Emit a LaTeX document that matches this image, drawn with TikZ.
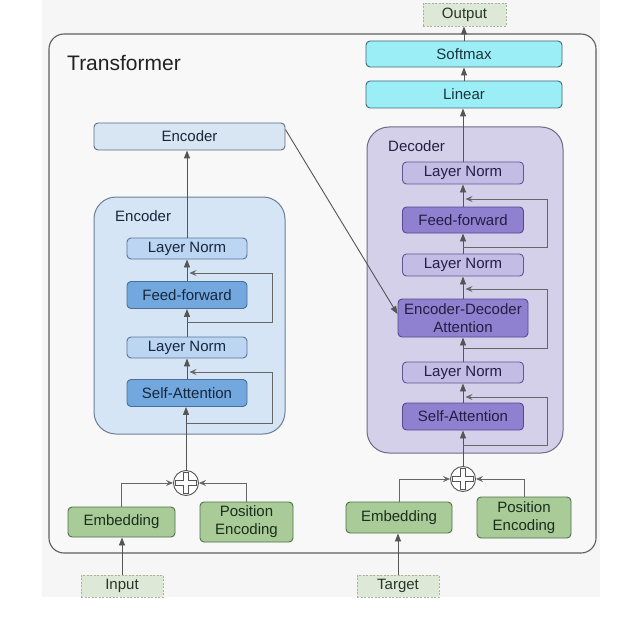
\documentclass[tikz,border=0pt]{standalone}
\usepackage{fontspec}
\setmainfont{Liberation Sans}
\usetikzlibrary{arrows.meta,calc}
\definecolor{bgc}{HTML}{F6F6F6}
\definecolor{framef}{HTML}{F8F8F8}
\definecolor{framebd}{HTML}{5E5E5E}
\definecolor{titc}{HTML}{222222}
\definecolor{linec}{HTML}{555555}
\definecolor{resc}{HTML}{666666}
\definecolor{enccf}{HTML}{D5E5F5}
\definecolor{enccb}{HTML}{6B7F95}
\definecolor{enctf}{HTML}{D8E6F4}
\definecolor{enctb}{HTML}{5C6E82}
\definecolor{enclf}{HTML}{BBD5F2}
\definecolor{enclb}{HTML}{5A7496}
\definecolor{encdf}{HTML}{72A8DE}
\definecolor{encdb}{HTML}{4A6E98}
\definecolor{enctx}{HTML}{18263C}
\definecolor{deccf}{HTML}{D4D0EA}
\definecolor{deccb}{HTML}{6E6A88}
\definecolor{declf}{HTML}{C3BDE6}
\definecolor{declb}{HTML}{5F5891}
\definecolor{decdf}{HTML}{8F81CF}
\definecolor{decdb}{HTML}{56498F}
\definecolor{dectx}{HTML}{251D42}
\definecolor{cyf}{HTML}{9CEEF6}
\definecolor{cyb}{HTML}{3E6A72}
\definecolor{cytx}{HTML}{1A343C}
\definecolor{grf}{HTML}{A8CB98}
\definecolor{grb}{HTML}{51704A}
\definecolor{grtx}{HTML}{1A2E1C}
\definecolor{iof}{HTML}{DDE8D6}
\definecolor{iob}{HTML}{A3B59B}
\definecolor{iotx}{HTML}{263626}
\begin{document}
\begin{tikzpicture}[x=1pt,y=-1pt,font=\fontsize{15}{18}\selectfont,
  blk/.style={rectangle,rounded corners=4pt,line width=0.9pt,inner sep=0pt,align=center},
  enctop/.style={blk,draw=enctb,fill=enctf,text=enctx,minimum width=191pt,minimum height=27pt},
  encln/.style={blk,draw=enclb,fill=enclf,text=enctx,minimum width=120pt,minimum height=21pt},
  encdk/.style={blk,draw=encdb,fill=encdf,text=enctx,minimum width=120pt,minimum height=27pt},
  decln/.style={blk,draw=declb,fill=declf,text=dectx,minimum width=121pt,minimum height=22pt},
  decdk/.style={blk,draw=decdb,fill=decdf,text=dectx,minimum width=121pt,minimum height=27pt},
  cybox/.style={blk,draw=cyb,fill=cyf,text=cytx,minimum width=196pt,minimum height=26pt},
  grbox/.style={blk,draw=grb,fill=grf,text=grtx,minimum height=31pt},
  iobox/.style={rectangle,draw=iob,fill=iof,text=iotx,dash pattern=on 2pt off 1.5pt,line width=0.9pt,minimum width=82pt,minimum height=22pt,inner sep=0pt},
  cont/.style={rectangle,rounded corners=22pt,line width=1pt,inner sep=0pt},
  plusc/.style={circle,draw=linec,fill=white,minimum size=25pt,inner sep=0pt,line width=0.9pt},
  arr/.style={draw=linec,line width=0.9pt,-{Triangle[length=8pt,width=6pt]}},
  res/.style={draw=resc,line width=0.9pt,-{Stealth[length=7pt,width=6pt,inset=2.5pt]}},
  crossp/.style={draw=linec,fill=white,line width=0.8pt,line join=miter}
]
\useasboundingbox (0,0) rectangle (624,623);
\fill[white] (0,0) rectangle (624,623);
\fill[bgc] (42,0) rectangle (600,597);
\draw[draw=framebd,fill=framef,line width=1.1pt,rounded corners=15pt] (49,34) rectangle (596,553);
\node[anchor=base west,font=\fontsize{21}{24}\selectfont,text=titc,inner sep=0pt] (title) at (67,71) {Transformer};

% ---------- Encoder ----------
\node[cont,draw=enccb,fill=enccf,minimum width=191pt,minimum height=237pt] (ecn) at (189.5,315.5) {};
\node[anchor=base west,text=enctx,inner sep=0pt] (elab) at (115,222) {Encoder};
\node[enctop] (encout) at (189.5,136.5) {Encoder};
\node[encln] (eln2) at (187,248.5) {Layer Norm};
\node[encdk] (eff) at (187,295) {Feed-forward};
\node[encln] (eln1) at (187,347.5) {Layer Norm};
\node[encdk] (esa) at (187,393) {Self-Attention};
\node[plusc] (p1) at (186,483) {};
\begin{scope}[shift={(p1.center)}]
\draw[crossp] (-10.5,-2.5) -- (-2.5,-2.5) -- (-2.5,-10.5) -- (2.5,-10.5) -- (2.5,-2.5) -- (10.5,-2.5) -- (10.5,2.5) -- (2.5,2.5) -- (2.5,10.5) -- (-2.5,10.5) -- (-2.5,2.5) -- (-10.5,2.5) -- cycle;
\end{scope}
\node[grbox,minimum width=107pt,minimum height=30pt] (emb1) at (121.5,522) {Embedding};
\node[grbox,minimum width=93pt,minimum height=40pt] (pe1) at (246.5,522) {Position\\Encoding};
\node[iobox] (input) at (122,586) {Input};

\draw[arr] (p1.north) -- (p1.north |- esa.south);
\draw[arr] (esa.north) -- (eln1.south);
\draw[arr] (eln1.north) -- (eff.south);
\draw[arr] (eff.north) -- (eln2.south);
\draw[arr] (eln2.north) -- (eln2.north |- encout.south);
\coordinate (r1a) at (187,322);
\coordinate (r1b) at (272,273);
\coordinate (r1c) at (189.5,273);
\draw[res] (r1a) -| (r1b) -- (r1c);
\coordinate (r2a) at (187,423);
\coordinate (r2b) at (272,372);
\coordinate (r2c) at (189.5,372);
\draw[res] (r2a) -| (r2b) -- (r2c);
\draw[res] (emb1.north) |- (p1.west);
\draw[res] (pe1.north) |- (p1.east);
\draw[arr] (input.north) -- (input.north |- emb1.south);

% ---------- Decoder ----------
\node[iobox,minimum width=83pt,minimum height=23pt] (output) at (464.5,14.5) {Output};
\node[cybox] (softmax) at (464,54) {Softmax};
\node[cybox,minimum height=27pt] (linear) at (464,94.5) {Linear};
\node[cont,draw=deccb,fill=deccf,minimum width=196pt,minimum height=326pt] (dcn) at (465,290) {};
\node[anchor=base west,text=dectx,inner sep=0pt] (dlab) at (388,152) {Decoder};
\node[decln] (dln3) at (463,173) {Layer Norm};
\node[decdk,minimum height=26pt] (dff) at (463,220) {Feed-forward};
\node[decln] (dln2) at (463,265) {Layer Norm};
\node[decdk,minimum width=130pt,minimum height=38pt] (deda) at (463,318) {Encoder-Decoder\\Attention};
\node[decln,minimum height=21pt] (dln1) at (463,372.5) {Layer Norm};
\node[decdk] (dsa) at (463,416.5) {Self-Attention};
\node[plusc] (p2) at (463,479) {};
\begin{scope}[shift={(p2.center)}]
\draw[crossp] (-10.5,-2.5) -- (-2.5,-2.5) -- (-2.5,-10.5) -- (2.5,-10.5) -- (2.5,-2.5) -- (10.5,-2.5) -- (10.5,2.5) -- (2.5,2.5) -- (2.5,10.5) -- (-2.5,10.5) -- (-2.5,2.5) -- (-10.5,2.5) -- cycle;
\end{scope}
\node[grbox,minimum width=106pt,minimum height=31pt] (emb2) at (399,517.5) {Embedding};
\node[grbox,minimum width=94pt,minimum height=41pt] (pe2) at (524,517.5) {Position\\Encoding};
\node[iobox] (target) at (398,586) {Target};

\draw[arr] (p2.north) -- (dsa.south);
\draw[arr] (dsa.north) -- (dln1.south);
\draw[arr] (dln1.north) -- (deda.south);
\draw[arr] (deda.north) -- (dln2.south);
\draw[arr] (dln2.north) -- (dff.south);
\draw[arr] (dff.north) -- (dln3.south);
\draw[arr] (dln3.north) -- (dln3.north |- linear.south);
\draw[arr] (linear.north) -- (linear.north |- softmax.south);
\draw[arr] (softmax.north) -- (softmax.north |- output.south);
\coordinate (d1a) at (463,247);
\coordinate (d1b) at (547,199);
\coordinate (d1c) at (465.5,199);
\draw[res] (d1a) -| (d1b) -- (d1c);
\coordinate (d2a) at (463,348);
\coordinate (d2b) at (547,289);
\coordinate (d2c) at (465.5,289);
\draw[res] (d2a) -| (d2b) -- (d2c);
\coordinate (d3a) at (463,445);
\coordinate (d3b) at (547,397);
\coordinate (d3c) at (465.5,397);
\draw[res] (d3a) -| (d3b) -- (d3c);
\draw[res] (emb2.north) |- (p2.west);
\draw[res] (pe2.north) |- (p2.east);
\draw[arr] (target.north) -- (target.north |- emb2.south);

% ---------- cross connection ----------
\coordinate (cs) at ($(encout.north east)!0.25!(encout.south east)$);
\coordinate (ce) at ($(deda.north west)!0.4!(deda.south west)$);
\draw[arr] (cs) -- (ce);
\end{tikzpicture}
\end{document}
